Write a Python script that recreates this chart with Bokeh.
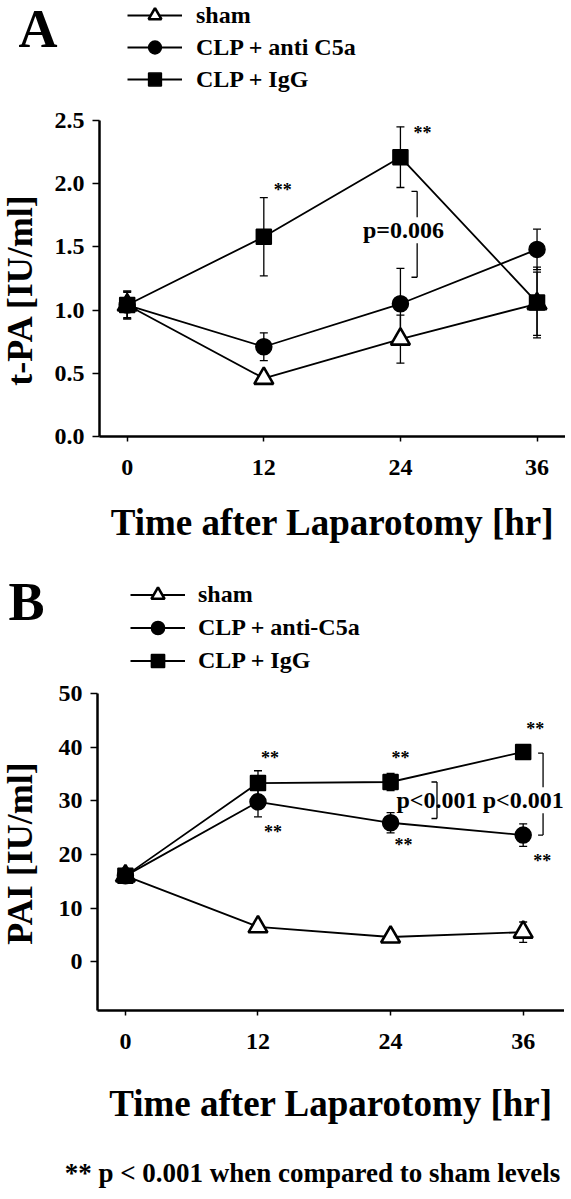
import math
from bokeh.plotting import figure
from bokeh.models import (ColumnDataSource, Range1d, FixedTicker, PrintfTickFormatter,
                          Whisker, TeeHead, Legend, LegendItem, Label)
from bokeh.layouts import column, row
from bokeh.core.properties import value
from bokeh.embed import file_html
from bokeh.resources import INLINE

# ---------------- data ----------------
hours = [0, 12, 24, 36]
x_ticks = [0, 12, 24, 36]

tpa_sham = [1.04, 0.46, 0.77, 1.05]
tpa_sham_err = [0.11, 0.02, 0.19, 0.25]
tpa_anti = [1.04, 0.71, 1.05, 1.48]
tpa_anti_err = [0.10, 0.11, 0.28, 0.16]
tpa_igg = [1.04, 1.58, 2.21, 1.06]
tpa_igg_err = [0.11, 0.31, 0.24, 0.28]
tpa_ticks = [0.0, 0.5, 1.0, 1.5, 2.0, 2.5]

pai_sham = [16.0, 6.5, 4.6, 5.5]
pai_sham_err = [1.0, 0.6, 0.5, 1.9]
pai_anti = [16.0, 29.8, 25.9, 23.6]
pai_anti_err = [1.0, 2.8, 1.9, 2.1]
pai_igg = [16.0, 33.3, 33.5, 39.1]
pai_igg_err = [1.2, 2.3, 1.6, 0.6]
pai_ticks = [0, 10, 20, 30, 40, 50]

labels_A = ["sham", "CLP + anti C5a", "CLP + IgG"]
labels_B = ["sham", "CLP + anti-C5a", "CLP + IgG"]
x_title = "Time after Laparotomy [hr]"
y_title_A = "t-PA [IU/ml]"
y_title_B = "PAI [IU/ml]"
footnote = "** p < 0.001 when compared to sham levels"

# significance marks: (series, time index)
stars_A = [("igg", 1), ("igg", 2)]
stars_B = [("igg", 1), ("anti", 1), ("igg", 2), ("anti", 2), ("igg", 3), ("anti", 3)]
pvalue_A = ["p=0.006"]
pvalue_B = ["p<0.001", "p<0.001"]

# ---------------- style ----------------
FONT = "Liberation Serif"
star_off_A = [(19, -47), (22, -24)]
star_off_B = [(12, -25), (15, 30), (10, -24), (13, 22), (12, -23), (19, 26)]
SPECS = [("triangle", 19, "white", 2.6), ("circle", 16, "black", 1.5),
         ("square", 15, "black", 1.5)]
TITLE_W = 48


def bare_fig(w, h):
    f = figure(frame_width=w, frame_height=h, x_axis_type=None, y_axis_type=None,
               x_range=Range1d(-100, -99), y_range=Range1d(-100, -99),
               output_backend="svg", toolbar_location=None, min_border=0)
    f.outline_line_color = None
    return f


def style_axes(p, xlab_standoff):
    for ax in (p.xaxis[0], p.yaxis[0]):
        ax.axis_line_width = 2.5
        ax.major_tick_line_width = 1.5
        ax.minor_tick_line_color = None
        ax.major_tick_in = 0
        ax.major_label_text_font = FONT
        ax.major_label_text_font_style = "bold"
        ax.major_label_text_font_size = "24px"
        ax.major_label_text_color = "black"
        ax.axis_label_text_font = FONT
        ax.axis_label_text_font_style = "bold"
        ax.axis_label_text_color = "black"
    p.xaxis.major_tick_out = 5
    p.yaxis.major_tick_out = 7
    p.xaxis.major_label_standoff = 18
    p.yaxis.major_label_standoff = 8
    p.xaxis.axis_label_text_font_size = "37px"
    p.xaxis.axis_label_standoff = xlab_standoff
    p.xgrid.grid_line_color = None
    p.ygrid.grid_line_color = None
    p.outline_line_color = None


def panel(series, yr, yticks, fw, fh, bl, bt, bb, xr, xlab_standoff, fmt):
    p = figure(frame_width=fw, frame_height=fh, x_range=Range1d(*xr),
               y_range=Range1d(*yr), output_backend="svg", toolbar_location=None,
               min_border_left=bl, min_border_right=0, min_border_top=bt,
               min_border_bottom=bb)
    style_axes(p, xlab_standoff)
    p.xaxis.ticker = FixedTicker(ticks=x_ticks)
    p.yaxis.ticker = FixedTicker(ticks=yticks)
    p.yaxis.formatter = PrintfTickFormatter(format=fmt)
    p.xaxis.axis_label = x_title

    sources = []
    for vals, errs in series:
        src = ColumnDataSource(dict(x=hours, y=vals,
                                    lo=[v - e for v, e in zip(vals, errs)],
                                    hi=[v + e for v, e in zip(vals, errs)]))
        sources.append(src)
        p.line("x", "y", source=src, line_color="black", line_width=1.8)
        p.add_layout(Whisker(base="x", upper="hi", lower="lo", source=src,
                             line_width=1.3, line_color="black",
                             upper_head=TeeHead(size=8, line_width=1.3, line_color="black"),
                             lower_head=TeeHead(size=8, line_width=1.3, line_color="black")))
    for src, (mk, sz, fill, lw) in zip(sources, SPECS):
        p.scatter("x", "y", source=src, marker=mk, size=sz, fill_color=fill,
                  line_color="black", line_width=lw)
    return p, sources


def header(sources, labels, letter, h, leg_loc, gh, standoff, letter_pos, letter_size):
    f = bare_fig(565, h)
    items = []
    for src, (mk, sz, fill, lw), lab in zip(sources, SPECS, labels):
        ln = f.line("x", "y", source=src, line_color="black", line_width=1.8)
        sc = f.scatter("x", "y", source=src, marker=mk, size=sz, fill_color=fill,
                       line_color="black", line_width=lw)
        items.append(LegendItem(label=lab, renderers=[ln, sc]))
    leg = Legend(items=items, location=leg_loc, glyph_width=55, glyph_height=gh,
                 label_height=gh, spacing=0, padding=0, margin=0,
                 label_standoff=standoff, border_line_alpha=0, background_fill_alpha=0,
                 label_text_font=FONT, label_text_font_style="bold",
                 label_text_font_size="24px", label_text_color="black")
    f.add_layout(leg)
    f.add_layout(Label(x=letter_pos[0], y=letter_pos[1], x_units="screen",
                       y_units="screen", text=letter, text_font=FONT,
                       text_font_style="bold", text_font_size=letter_size,
                       text_baseline="alphabetic", text_color="black"))
    return f


def ytitle_fig(text, h, yc):
    f = bare_fig(TITLE_W, h)
    f.add_layout(Label(x=19, y=yc, x_units="screen", y_units="screen", text=text,
                       angle=math.pi / 2, text_font=FONT, text_font_style="bold",
                       text_font_size="36px", text_align="center",
                       text_baseline="alphabetic", text_color="black"))
    return f


# ---------------- panel A ----------------
pA, srcA = panel([(tpa_sham, tpa_sham_err), (tpa_anti, tpa_anti_err), (tpa_igg, tpa_igg_err)],
                 (0, 2.5), tpa_ticks, 466, 316, 99 - TITLE_W, 16, 124,
                 (-2.433, 38.50), 24, "%.1f")

ser_A = {"sham": tpa_sham, "anti": tpa_anti, "igg": tpa_igg}
pA.text(x=[hours[i] for s, i in stars_A], y=[ser_A[s][i] for s, i in stars_A],
        text=["**"] * len(stars_A), x_offset=[o[0] for o in star_off_A],
        y_offset=[o[1] for o in star_off_A], text_font=value(FONT),
        text_font_style="bold", text_font_size="18px", text_align="center",
        text_baseline="middle", text_color="black")

bxA = hours[2] + 1.47
topA = tpa_igg[2] - tpa_igg_err[2] - 0.03
botA = tpa_anti[2] + tpa_anti_err[2] - 0.07
pA.segment(x0=[bxA, bxA - 0.5, bxA - 0.5], y0=[topA, topA, botA],
           x1=[bxA, bxA, bxA], y1=[botA, topA, botA], line_color="black", line_width=1.3)
pA.text(x=[hours[2]], y=[(topA + botA) / 2], text=pvalue_A, x_offset=3, y_offset=-4,
        text_font=value(FONT), text_font_style="bold", text_font_size="24px",
        text_align="center", text_baseline="middle", text_color="black",
        background_fill_color="white")

hA = header(srcA, labels_A, "A", 104, (127, 9), 32, 14, (18, 76), "54px")
tA = ytitle_fig(y_title_A, 456, 287)

# ---------------- panel B ----------------
pB, srcB = panel([(pai_sham, pai_sham_err), (pai_anti, pai_anti_err), (pai_igg, pai_igg_err)],
                 (-9.1, 50), pai_ticks, 467, 317, 97 - TITLE_W, 16, 130,
                 (-2.525, 39.74), 31, "%d")

ser_B = {"sham": pai_sham, "anti": pai_anti, "igg": pai_igg}
pB.text(x=[hours[i] for s, i in stars_B], y=[ser_B[s][i] for s, i in stars_B],
        text=["**"] * len(stars_B), x_offset=[o[0] for o in star_off_B],
        y_offset=[o[1] for o in star_off_B], text_font=value(FONT),
        text_font_style="bold", text_font_size="18px", text_align="center",
        text_baseline="middle", text_color="black")

bx1 = hours[2] + 4.2
top1, bot1 = pai_igg[2], pai_anti[2] + 0.8
bx2 = hours[3] + 1.8
top2, bot2 = pai_igg[3] - 0.2, pai_anti[3]
ymidB = (top1 + bot1) / 2
pB.segment(x0=[bx1, bx1 - 0.5, bx1 - 0.5, bx2, bx2 - 0.45, bx2 - 0.45],
           y0=[top1, top1, bot1, top2, top2, bot2],
           x1=[bx1, bx1, bx1, bx2, bx2, bx2],
           y1=[bot1, top1, bot1, bot2, top2, bot2], line_color="black", line_width=1.3)
pB.text(x=[bx1], y=[ymidB], text=pvalue_B[:1], text_font=value(FONT),
        text_font_style="bold", text_font_size="24px", text_align="center",
        text_baseline="middle", text_color="black")
pB.text(x=[hours[3]], y=[ymidB], text=pvalue_B[1:], x_offset=0, text_font=value(FONT),
        text_font_style="bold", text_font_size="24px", text_align="center",
        text_baseline="middle", text_color="black", background_fill_color="white")

hB = header(srcB, labels_B, "B", 117, (130, 0), 33, 13, (8, 76), "54px")
tB = ytitle_fig(y_title_B, 463, 303)

foot = bare_fig(565, 59)
foot.add_layout(Label(x=312, y=27, x_units="screen", y_units="screen", text=footnote,
                      text_font=FONT, text_font_style="bold", text_font_size="27px",
                      text_align="center", text_baseline="middle", text_color="black"))

layout = column(hA, row(tA, pA, spacing=0), hB, row(tB, pB, spacing=0), foot, spacing=0)
open("out.html", "w").write(file_html(layout, INLINE))
